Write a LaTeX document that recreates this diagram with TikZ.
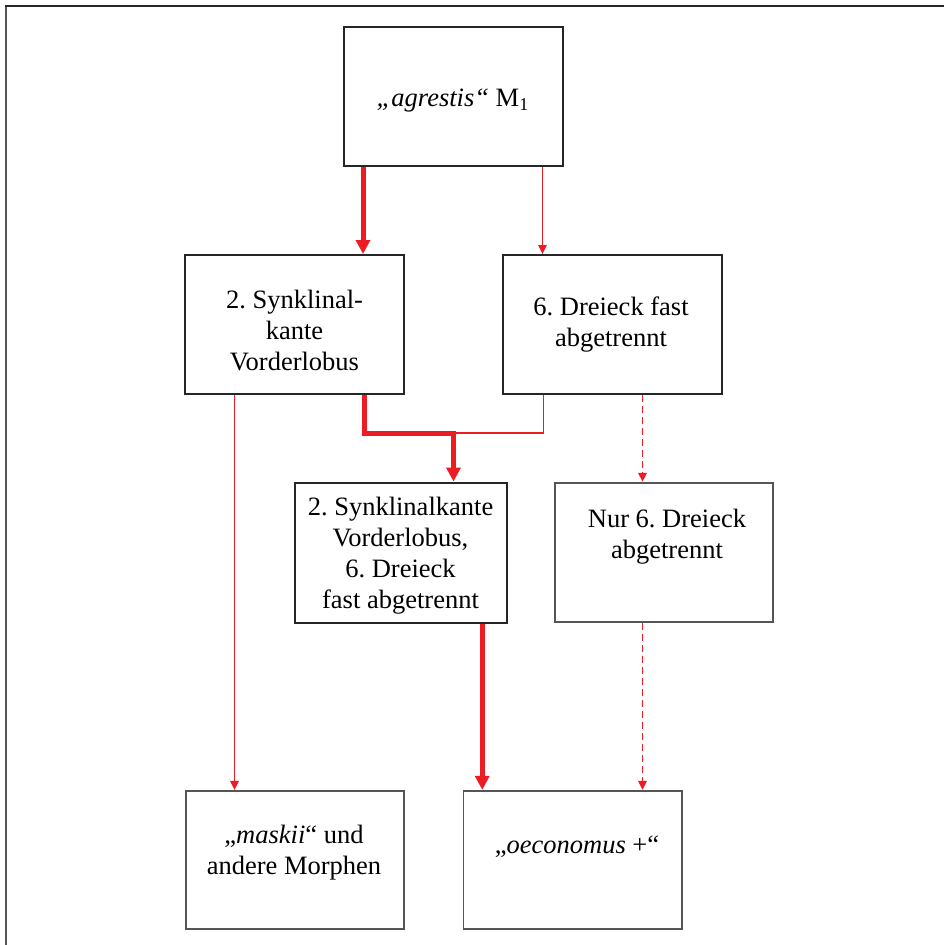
\documentclass[tikz,border=0pt]{standalone}
\usepackage{fontspec}
\setmainfont{Liberation Serif}
\usetikzlibrary{arrows.meta}
\frenchspacing
\definecolor{arrred}{HTML}{ED1C24}
\definecolor{boxdark}{HTML}{262626}
\definecolor{boxgray}{HTML}{555555}
\newcommand\txtlines[1]{\begin{tabular}[t]{@{}c@{}}#1\end{tabular}}
\tikzset{
  boxA/.style={draw=boxdark, line width=2pt, rectangle, inner sep=0pt},
  boxB/.style={draw=boxgray, line width=1.8pt, rectangle, inner sep=0pt},
  lbl/.style={anchor=base, inner sep=0pt, font=\fontsize{26.5}{31}\selectfont},
  thickarr/.style={color=arrred, line width=5pt, line join=miter, -{Triangle[length=14pt,width=14pt]}},
  thinarr/.style={color=arrred, line width=1.5pt, -{Triangle[length=9pt,width=8.5pt]}},
  thinline/.style={color=arrred, line width=1.5pt},
  dasharr/.style={color=arrred, line width=1.8pt, dash pattern=on 7pt off 4pt, -{Triangle[length=9pt,width=8.5pt]}}
}
\begin{document}
\begin{tikzpicture}[x=1pt,y=-1pt]
\useasboundingbox (0,0) rectangle (944,945);
% frame
\draw[line width=2pt, color=boxgray] (6,945) -- (6,6);
\draw[line width=2pt, color=boxdark] (5,6) -- (944,6);
% boxes
\node[boxA, minimum width=219pt, minimum height=139pt] (A) at (453.5,96.5) {};
\node[boxA, minimum width=219pt, minimum height=139pt] (B) at (294.5,324.5) {};
\node[boxA, minimum width=219pt, minimum height=139pt] (C) at (612.5,324.5) {};
\node[boxA, minimum width=211.5pt, minimum height=140pt] (D) at (401,552.5) {};
\node[boxB, minimum width=218pt, minimum height=139pt] (E) at (663.7,552.2) {};
\node[boxB, minimum width=218.5pt, minimum height=138.5pt] (F) at (295,860) {};
\node[boxB, minimum width=218.6pt, minimum height=138.5pt] (G) at (572.7,860) {};
% texts
\node[lbl] (At) at (452.5,106) {{\itshape „agrestis“} M\raisebox{-4.5pt}{\fontsize{18}{18}\selectfont 1}};
\node[lbl] (Bt) at (294.5,308) {\txtlines{2. Synklinal-\\kante\\Vorderlobus}};
\node[lbl] (Ct) at (611,315) {\txtlines{6. Dreieck fast\\abgetrennt}};
\node[lbl] (Dt) at (400.5,515) {\txtlines{2. Synklinalkante\\Vorderlobus,\\6. Dreieck\\fast abgetrennt}};
\node[lbl] (Et) at (667,527.5) {\txtlines{Nur 6. Dreieck\\abgetrennt}};
\node[lbl] (Ft) at (294,843.5) {\txtlines{„\textit{maskii}“ und\\andere Morphen}};
\node[lbl] (Gt) at (577,853.5) {„\textit{oeconomus} +“};
% connectors
\coordinate (j) at (453.5,433);
\draw[thickarr] ([xshift=20pt]A.south west) -- ([xshift=20pt]A.south west |- B.north);
\draw[thinarr] ([xshift=199.5pt]A.south west) -- ([xshift=199.5pt]A.south west |- C.north);
\draw[thinarr] ([xshift=50.5pt]B.south west) -- ([xshift=50.5pt]B.south west |- F.north);
\draw[thinline] ([xshift=41.5pt]C.south west) |- (j);
\draw[thickarr] ([xshift=180pt]B.south west) |- (j) -- (j |- D.north);
\draw[dasharr] ([xshift=140.5pt]C.south west) -- ([xshift=140.5pt]C.south west |- E.north);
\draw[dasharr] ([xshift=88.7pt]E.south west) -- ([xshift=88.7pt]E.south west |- G.north);
\draw[thickarr] ([xshift=188pt]D.south west) -- ([xshift=188pt]D.south west |- G.north);
\end{tikzpicture}
\end{document}
